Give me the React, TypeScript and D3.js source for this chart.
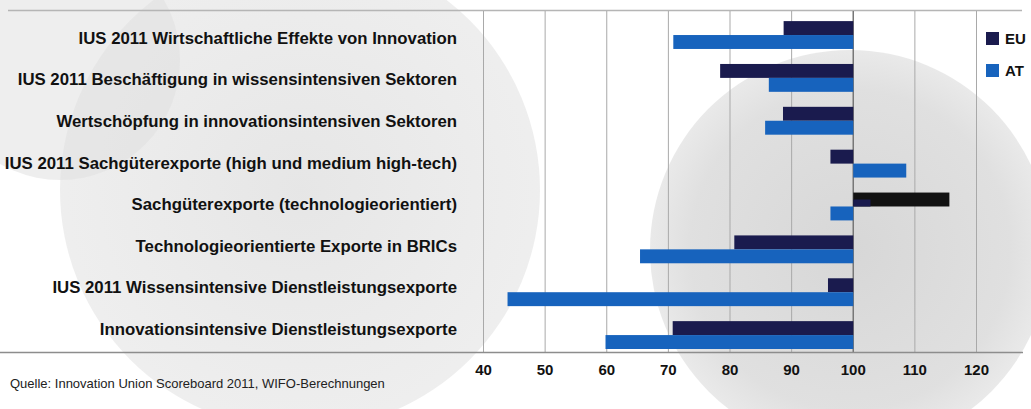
import React from 'react';
import * as d3 from 'd3';

const categories = [
  'IUS 2011 Wirtschaftliche Effekte von Innovation',
  'IUS 2011 Beschäftigung in wissensintensiven Sektoren',
  'Wertschöpfung in innovationsintensiven Sektoren',
  'IUS 2011 Sachgüterexporte (high und medium high-tech)',
  'Sachgüterexporte (technologieorientiert)',
  'Technologieorientierte Exporte in BRICs',
  'IUS 2011 Wissensintensive Dienstleistungsexporte',
  'Innovationsintensive Dienstleistungsexporte',
];
const seriesNames = ['EU', 'AT'];
const euValues = [88.7, 78.4, 88.6, 96.3, 102.8, 80.7, 95.9, 70.7];
const atValues = [70.8, 86.3, 85.7, 108.6, 96.3, 65.4, 43.9, 59.8];
// dark overlay bar printed over the EU slot in the source
const euOverlay: (number | null)[] = [null, null, null, null, 115.6, null, null, null];
const tickValues = [40, 50, 60, 70, 80, 90, 100, 110, 120];
const baseline = 100;
const sourceNote = 'Quelle: Innovation Union Scoreboard 2011, WIFO-Berechnungen';

const EU_COLOR = '#1a1b4e';
const AT_COLOR = '#1763bd';
const FONT = '"Liberation Sans", Arial, sans-serif';

export default function App() {
  const W = 1031;
  const H = 409;
  const x = d3.scaleLinear().domain([40, 120]).range([483.5, 976.5]);
  const y = d3
    .scaleBand<string>()
    .domain(categories)
    .range([13.6, 356.5])
    .paddingInner(0.35)
    .paddingOuter(0.175);
  const sub = d3.scaleBand<string>().domain(seriesNames).range([0, y.bandwidth()]);
  // label rows in the source are slightly compressed relative to the bars
  const ly = d3.scaleLinear().domain([0, categories.length - 1]).range([38, 329]);
  const x0 = x(baseline);

  const bar = (v: number) => ({ x: Math.min(x0, x(v)), w: Math.abs(x(v) - x0) });

  return (
    <div style={{ position: 'absolute', left: 0, top: 0 }}>
      <svg width={W} height={H} style={{ display: 'block' }} fontFamily={FONT}>
        <defs>
          <radialGradient id="g1" cx="50%" cy="50%" r="50%">
            <stop offset="0%" stopColor="#cdcdcd" />
            <stop offset="80%" stopColor="#d8d8d8" />
            <stop offset="100%" stopColor="#e4e4e4" />
          </radialGradient>
          <radialGradient id="g2" cx="50%" cy="50%" r="50%">
            <stop offset="0%" stopColor="#e0e0e0" />
            <stop offset="100%" stopColor="#eaeaea" />
          </radialGradient>
        </defs>
        <rect width={W} height={H} fill="#fff" />
        {/* decorative background shapes */}
        <circle cx={300} cy={190} r={240} fill="url(#g2)" opacity={0.8} />
        <circle cx={60} cy={60} r={120} fill="#e0e0e0" opacity={0.55} />
        <circle cx={850} cy={250} r={200} fill="url(#g1)" opacity={0.8} />

        {/* top rule */}
        <line x1={8} x2={1022} y1={10.5} y2={10.5} stroke="#b5b5b5" strokeWidth={1.5} />

        {/* grid */}
        {tickValues.map((t) => (
          <line
            key={t}
            x1={x(t)}
            x2={x(t)}
            y1={11}
            y2={352}
            stroke={t === baseline ? '#777' : '#a9a9a9'}
            strokeWidth={t === baseline ? 1.5 : 1}
          />
        ))}

        {/* bars */}
        {categories.map((c, i) => {
          const yb = y(c)!;
          const eu = bar(euValues[i]);
          const at = bar(atValues[i]);
          const ov = euOverlay[i];
          const hEU = sub.bandwidth();
          return (
            <g key={c}>
              {ov != null && (
                <rect
                  x={bar(ov).x}
                  y={yb + sub('EU')!}
                  width={bar(ov).w}
                  height={hEU}
                  fill="#121212"
                />
              )}
              <rect
                x={eu.x}
                y={yb + sub('EU')! + (ov != null ? hEU / 2 : 0)}
                width={eu.w}
                height={ov != null ? hEU / 2 : hEU}
                fill={EU_COLOR}
              />
              <rect x={at.x} y={yb + sub('AT')!} width={at.w} height={sub.bandwidth()} fill={AT_COLOR} />
            </g>
          );
        })}

        {/* axis line */}
        <line x1={0} x2={1023} y1={352.5} y2={352.5} stroke="#8d8d8d" strokeWidth={1.5} />

        {/* category labels */}
        {categories.map((c, i) => (
          <text
            key={c}
            x={457}
            y={ly(i)}
            dy="0.35em"
            textAnchor="end"
            fontSize={16.8}
            fontWeight="bold"
            fill="#111"
          >
            {c}
          </text>
        ))}

        {/* tick labels */}
        {tickValues.map((t) => (
          <text
            key={t}
            x={x(t)}
            y={370}
            dy="0.35em"
            textAnchor="middle"
            fontSize={15}
            fontWeight="bold"
            fill="#111"
          >
            {t}
          </text>
        ))}

        {/* legend */}
        {seriesNames.map((s, i) => (
          <g key={s} transform={`translate(986, ${32 + i * 32})`}>
            <rect width={13} height={13} fill={s === 'EU' ? EU_COLOR : AT_COLOR} />
            <text x={19} y={6.5} dy="0.35em" fontSize={15} fontWeight="bold" fill="#111">
              {s}
            </text>
          </g>
        ))}

        {/* source */}
        <text x={10} y={383} dy="0.35em" fontSize={13} fill="#222">
          {sourceNote}
        </text>
      </svg>
    </div>
  );
}
